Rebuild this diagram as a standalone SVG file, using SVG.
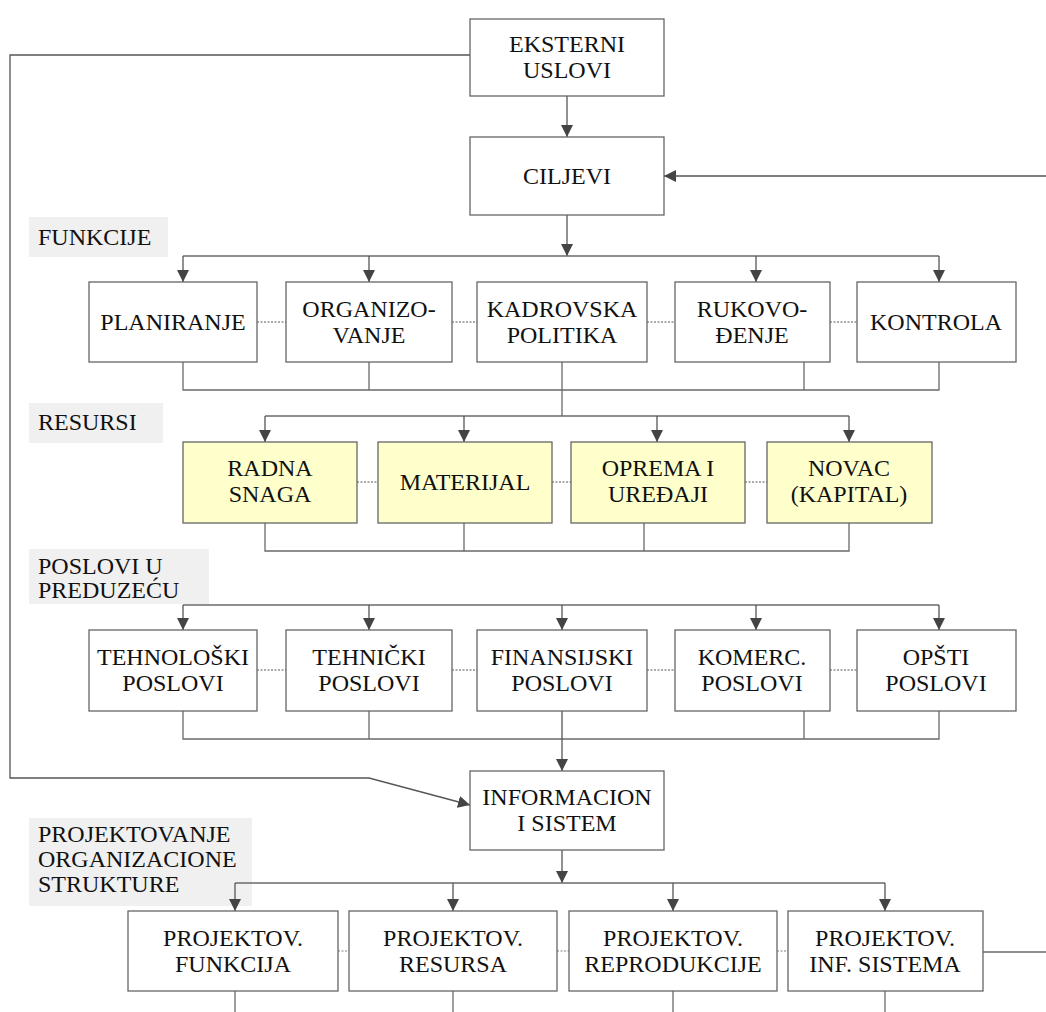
<svg xmlns="http://www.w3.org/2000/svg" width="1046" height="1012" viewBox="0 0 1046 1012">
  <style>
    text { font-family: "Liberation Serif", Tinos, "Times New Roman", Times, "Noto Serif", "DejaVu Serif", FreeSerif, serif; font-size: 24px; fill: #111; }
    .box rect { fill: #fff; stroke: #666; stroke-width: 1.3; }
    .res rect { fill: #ffffcc; }
    .lbl rect { fill: #f0f0f0; stroke: none; }
    .c { text-anchor: middle; }
    .wire { fill: none; stroke: #6a6a6a; stroke-width: 1.3; }
    .arr { fill: none; stroke: #555; stroke-width: 1.3; marker-end: url(#ah); }
    .dot { fill: none; stroke: #555; stroke-width: 1; stroke-dasharray: 2 1.5; }
    .dot2 { fill: none; stroke: #aaa; stroke-width: 1.3; stroke-dasharray: 2 1.5; }
  </style>
  <defs>
    <marker id="ah" markerUnits="userSpaceOnUse" viewBox="0 0 12 12" refX="12" refY="6" markerWidth="12" markerHeight="12" orient="auto">
      <path d="M0,0 L12,6 L0,12 z" fill="#444"/>
    </marker>
  </defs>

  <!-- section labels -->
  <g id="lbl-funkcije" class="lbl">
    <rect x="29" y="217" width="139" height="40"/>
    <text x="38" y="245">FUNKCIJE</text>
  </g>
  <g id="lbl-resursi" class="lbl">
    <rect x="29" y="403" width="134" height="40"/>
    <text x="38" y="430">RESURSI</text>
  </g>
  <g id="lbl-poslovi" class="lbl">
    <rect x="29" y="549" width="180" height="55"/>
    <text x="38" y="574">POSLOVI U</text>
    <text x="38" y="598">PREDUZEĆU</text>
  </g>
  <g id="lbl-projektovanje" class="lbl">
    <rect x="29" y="818" width="223" height="88"/>
    <text x="38" y="842">PROJEKTOVANJE</text>
    <text x="38" y="867">ORGANIZACIONE</text>
    <text x="38" y="892">STRUKTURE</text>
  </g>

  <!-- connectors -->
  <g id="connectors">
    <!-- external conditions feed back to the information system -->
    <path class="arr" d="M470,55 H10 V778 H369 L470,805"/>
    <path class="arr" d="M567,96 V137"/>
    <path class="arr" d="M1046,176 H664"/>
    <path class="arr" d="M567,215 V256"/>

    <!-- functions -->
    <path class="wire" d="M183,256 H939"/>
    <path class="arr" d="M183,256 V282"/>
    <path class="arr" d="M369,256 V282"/>
    <path class="arr" d="M756,256 V282"/>
    <path class="arr" d="M939,256 V282"/>
    <path class="wire" d="M183,362 V390 H939 V362 M369,362 V390 M562,362 V416 M804,362 V390"/>
    <path class="dot" d="M257,322 H286 M452,322 H477 M647,322 H675 M830,322 H857"/>

    <!-- resources -->
    <path class="wire" d="M265,416 H849"/>
    <path class="arr" d="M265,416 V442"/>
    <path class="arr" d="M464,416 V442"/>
    <path class="arr" d="M657,416 V442"/>
    <path class="arr" d="M849,416 V442"/>
    <path class="wire" d="M265,523 V551 H849 V523 M464,523 V551 M644,523 V551"/>
    <path class="dot" d="M357,482 H378 M552,482 H571 M745,482 H767"/>

    <!-- business activities -->
    <path class="wire" d="M183,605 H939"/>
    <path class="arr" d="M183,605 V630"/>
    <path class="arr" d="M369,605 V630"/>
    <path class="arr" d="M562,605 V630"/>
    <path class="arr" d="M756,605 V630"/>
    <path class="arr" d="M939,605 V630"/>
    <path class="wire" d="M183,711 V739 H939 V711 M369,711 V739 M804,711 V739"/>
    <path class="arr" d="M562,711 V771"/>
    <path class="dot" d="M257,670 H286 M452,670 H477 M647,670 H675 M830,670 H857"/>

    <!-- organisation design -->
    <path class="arr" d="M562,850 V883"/>
    <path class="wire" d="M235,883 H885"/>
    <path class="arr" d="M235,883 V911"/>
    <path class="arr" d="M453,883 V911"/>
    <path class="arr" d="M673,883 V911"/>
    <path class="arr" d="M885,883 V911"/>
    <path class="wire" d="M235,991 V1012 M453,991 V1012 M673,991 V1012 M885,991 V1012 M983,952 H1046"/>
    <path class="dot2" d="M338,951 H349 M557,951 H569 M777,951 H788"/>
  </g>

  <!-- top -->
  <g id="eksterni" class="box">
    <rect x="470" y="19" width="194" height="77"/>
    <text class="c" x="567" y="52">EKSTERNI</text>
    <text class="c" x="567" y="78">USLOVI</text>
  </g>
  <g id="ciljevi" class="box">
    <rect x="470" y="137" width="194" height="78"/>
    <text class="c" x="567" y="184">CILJEVI</text>
  </g>

  <!-- functions -->
  <g id="planiranje" class="box">
    <rect x="89" y="282" width="168" height="80"/>
    <text class="c" x="173" y="330">PLANIRANJE</text>
  </g>
  <g id="organizovanje" class="box">
    <rect x="286" y="282" width="166" height="80"/>
    <text class="c" x="369" y="317">ORGANIZO-</text>
    <text class="c" x="369" y="343">VANJE</text>
  </g>
  <g id="kadrovska" class="box">
    <rect x="477" y="282" width="170" height="80"/>
    <text class="c" x="562" y="317">KADROVSKA</text>
    <text class="c" x="562" y="343">POLITIKA</text>
  </g>
  <g id="rukovodjenje" class="box">
    <rect x="675" y="282" width="155" height="80"/>
    <text class="c" x="752" y="317">RUKOVO-</text>
    <text class="c" x="752" y="343">ĐENJE</text>
  </g>
  <g id="kontrola" class="box">
    <rect x="857" y="282" width="159" height="80"/>
    <text class="c" x="936" y="330">KONTROLA</text>
  </g>

  <!-- resources -->
  <g id="radna-snaga" class="box res">
    <rect x="183" y="442" width="174" height="81"/>
    <text class="c" x="270" y="476">RADNA</text>
    <text class="c" x="270" y="502">SNAGA</text>
  </g>
  <g id="materijal" class="box res">
    <rect x="378" y="442" width="174" height="81"/>
    <text class="c" x="465" y="490">MATERIJAL</text>
  </g>
  <g id="oprema" class="box res">
    <rect x="571" y="442" width="174" height="81"/>
    <text class="c" x="658" y="476">OPREMA I</text>
    <text class="c" x="658" y="502">UREĐAJI</text>
  </g>
  <g id="novac" class="box res">
    <rect x="767" y="442" width="165" height="81"/>
    <text class="c" x="849" y="476">NOVAC</text>
    <text class="c" x="849" y="502">(KAPITAL)</text>
  </g>

  <!-- business activities -->
  <g id="tehnoloski" class="box">
    <rect x="89" y="630" width="168" height="81"/>
    <text class="c" x="173" y="665">TEHNOLOŠKI</text>
    <text class="c" x="173" y="691">POSLOVI</text>
  </g>
  <g id="tehnicki" class="box">
    <rect x="286" y="630" width="166" height="81"/>
    <text class="c" x="369" y="665">TEHNIČKI</text>
    <text class="c" x="369" y="691">POSLOVI</text>
  </g>
  <g id="finansijski" class="box">
    <rect x="477" y="630" width="170" height="81"/>
    <text class="c" x="562" y="665">FINANSIJSKI</text>
    <text class="c" x="562" y="691">POSLOVI</text>
  </g>
  <g id="komerc" class="box">
    <rect x="675" y="630" width="155" height="81"/>
    <text class="c" x="752" y="665">KOMERC.</text>
    <text class="c" x="752" y="691">POSLOVI</text>
  </g>
  <g id="opsti" class="box">
    <rect x="857" y="630" width="159" height="81"/>
    <text class="c" x="936" y="665">OPŠTI</text>
    <text class="c" x="936" y="691">POSLOVI</text>
  </g>

  <!-- information system -->
  <g id="informacioni" class="box">
    <rect x="470" y="771" width="194" height="79"/>
    <text class="c" x="567" y="805">INFORMACION</text>
    <text class="c" x="567" y="831">I SISTEM</text>
  </g>

  <!-- organisation design -->
  <g id="proj-funkcija" class="box">
    <rect x="128" y="911" width="210" height="80"/>
    <text class="c" x="233" y="946">PROJEKTOV.</text>
    <text class="c" x="233" y="972">FUNKCIJA</text>
  </g>
  <g id="proj-resursa" class="box">
    <rect x="349" y="911" width="208" height="80"/>
    <text class="c" x="453" y="946">PROJEKTOV.</text>
    <text class="c" x="453" y="972">RESURSA</text>
  </g>
  <g id="proj-reprodukcije" class="box">
    <rect x="569" y="911" width="208" height="80"/>
    <text class="c" x="673" y="946">PROJEKTOV.</text>
    <text class="c" x="673" y="972">REPRODUKCIJE</text>
  </g>
  <g id="proj-inf" class="box">
    <rect x="788" y="911" width="195" height="80"/>
    <text class="c" x="885" y="946">PROJEKTOV.</text>
    <text class="c" x="885" y="972">INF. SISTEMA</text>
  </g>
</svg>
